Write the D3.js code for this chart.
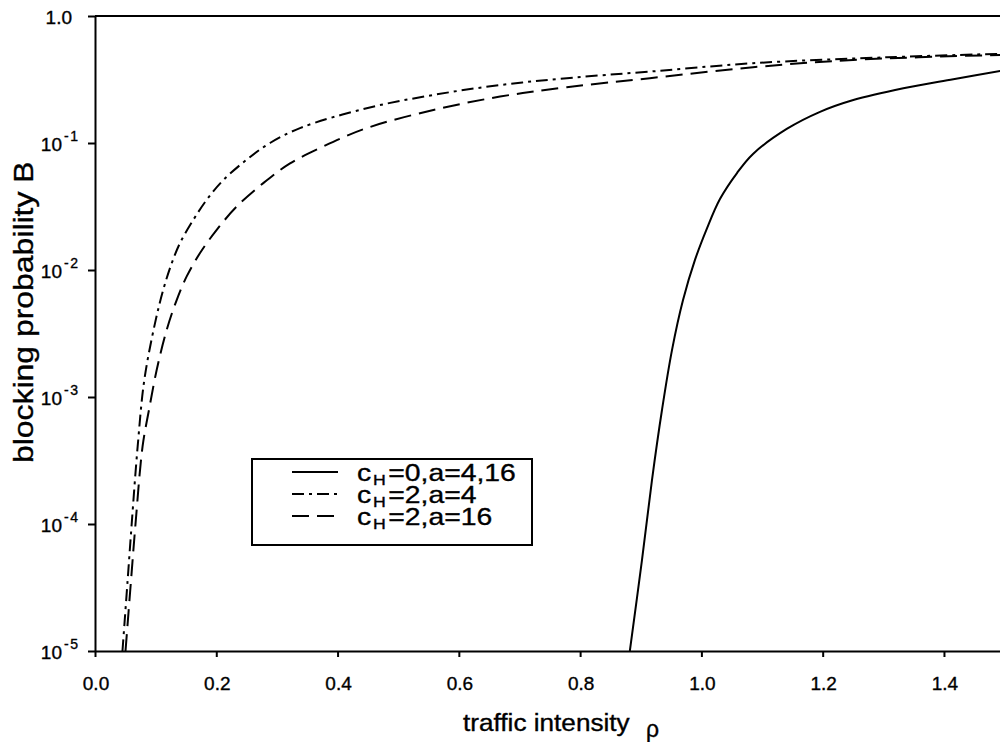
<!DOCTYPE html>
<html>
<head>
<meta charset="utf-8">
<script src="https://cdn.jsdelivr.net/npm/d3@7"></script>
<style>
  body { margin: 0; background: #fff; }
  svg { display: block; font-family: "Liberation Sans", Arial, sans-serif; }
  svg text { stroke: black; stroke-width: 0.35px; }
</style>
</head>
<body>
<div id="chart"></div>
<script>
// x ticks (traffic intensity rho)
const rhoTicks = [0.0, 0.2, 0.4, 0.6, 0.8, 1.0, 1.2, 1.4];
const rhoTickLabels = ["0.0", "0.2", "0.4", "0.6", "0.8", "1.0", "1.2", "1.4"];
// y ticks as decade exponents
const bExps = [0, -1, -2, -3, -4, -5];

// c_H = 0, a = 4,16  (solid)
const rhoSolid = [0.882, 0.902, 0.9185, 0.935, 0.9515, 0.9697, 0.9894, 1.0087, 1.0306, 1.0587, 1.0851, 1.1407, 1.1956, 1.2505, 1.333, 1.4154, 1.5];
const bSolid = [1e-5, 5.2e-5, 2.22e-4, 7.9e-4, 2.34e-3, 5.8e-3, 1.2e-2, 2.1e-2, 3.62e-2, 5.8e-2, 8.2e-2, 0.129, 0.176, 0.218, 0.27, 0.318, 0.374];

// c_H = 2, a = 4  (dash-dot)
const rhoA4 = [0.0453, 0.0538, 0.0605, 0.0704, 0.0813, 0.0989, 0.1126, 0.1265, 0.1402, 0.1621, 0.1842, 0.2116, 0.2502, 0.2886, 0.338, 0.448, 0.558, 0.668, 0.778, 0.915, 1.085, 1.306, 1.5];
const bA4 = [1e-5, 3.6e-5, 1.0e-4, 4.1e-4, 1.36e-3, 3.8e-3, 7.0e-3, 1.13e-2, 1.63e-2, 2.48e-2, 3.57e-2, 5.1e-2, 7.4e-2, 0.100, 0.131, 0.188, 0.239, 0.286, 0.324, 0.365, 0.425, 0.473, 0.505];

// c_H = 2, a = 16  (dashed)
const rhoA16 = [0.0503, 0.0594, 0.0668, 0.0785, 0.089, 0.1017, 0.1182, 0.1347, 0.1512, 0.1732, 0.2007, 0.2337, 0.2775, 0.3216, 0.3765, 0.448, 0.558, 0.668, 0.778, 0.915, 1.085, 1.25, 1.5];
const bA16 = [1e-5, 3.6e-5, 1.0e-4, 4.1e-4, 7.9e-4, 1.63e-3, 3.37e-3, 5.8e-3, 8.9e-3, 1.36e-2, 2.07e-2, 3.16e-2, 4.83e-2, 6.9e-2, 9.4e-2, 0.131, 0.182, 0.232, 0.275, 0.324, 0.395, 0.451, 0.495];

const legendLabels = ["=0,a=4,16", "=2,a=4", "=2,a=16"];

let w = 1000;
let h = 742;

let x = d3.scaleLinear().domain([0, 1.5]).range([95, 95 + 1.5 * 606.4]);
let y = d3.scaleLog().domain([1e-5, 1]).range([651, 16]);

let svg = d3.select("#chart")
  .append("svg")
  .attr("width", w)
  .attr("height", h)
  .style("overflow", "hidden");

svg.append("rect").attr("width", w).attr("height", h).attr("fill", "white");

svg.append("defs").append("clipPath").attr("id", "plot")
  .append("rect")
  .attr("x", x(0)).attr("y", y(1))
  .attr("width", x(1.5) - x(0)).attr("height", y(1e-5) - y(1));

// top frame line
svg.append("line")
  .attr("x1", x(0)).attr("x2", x(1.5))
  .attr("y1", y(1)).attr("y2", y(1))
  .attr("stroke", "black").attr("stroke-width", 2);

// left axis
svg.append("g")
  .attr("transform", `translate(${x(0)},0)`)
  .call(d3.axisLeft(y).tickValues(bExps.map(e => Math.pow(10, e))).tickSize(7).tickSizeOuter(0).tickFormat(""));

// bottom axis
svg.append("g")
  .attr("transform", `translate(0,${y(1e-5)})`)
  .call(d3.axisBottom(x).tickValues(rhoTicks).tickSize(6).tickSizeOuter(0).tickFormat(""));

svg.selectAll(".domain, .tick line")
  .attr("stroke", "black")
  .attr("stroke-width", 2);

// y tick labels
bExps.forEach(e => {
  let ty = y(Math.pow(10, e));
  if (e === 0) {
    svg.append("text")
      .attr("x", 72).attr("y", ty + 8)
      .attr("text-anchor", "end")
      .attr("font-size", 19)
      .text("1.0");
  } else {
    svg.append("text")
      .attr("x", 62).attr("y", ty + 8)
      .attr("text-anchor", "end")
      .attr("font-size", 19)
      .text("10");
    svg.append("text")
      .attr("x", 64).attr("y", ty - 2)
      .attr("font-size", 14)
      .attr("letter-spacing", 1.5)
      .text("-" + (-e));
  }
});

// x tick labels
rhoTicks.forEach((v, i) => {
  svg.append("text")
    .attr("x", x(v) + 1).attr("y", 690)
    .attr("text-anchor", "middle")
    .attr("font-size", 19)
    .text(rhoTickLabels[i]);
});

// axis titles
svg.append("text")
  .attr("transform", "translate(463,731) scale(1.09,1)")
  .attr("font-size", 24)
  .text("traffic intensity");
svg.append("text")
  .attr("transform", "translate(646,737)")
  .attr("font-size", 23)
  .text("ρ");

svg.append("text")
  .attr("transform", "translate(33,463) rotate(-90) scale(1.14,1)")
  .attr("font-size", 28)
  .text("blocking probability B");

// curves
let series = [
  {rho: rhoSolid, b: bSolid, dash: null},
  {rho: rhoA4, b: bA4, dash: "12,5,3,5"},
  {rho: rhoA16, b: bA16, dash: "17,8"}
];

let line = d3.line()
  .x(d => x(d[0]))
  .y(d => y(d[1]))
  .curve(d3.curveCatmullRom.alpha(0.5));

let curves = svg.append("g").attr("clip-path", "url(#plot)");
series.forEach(s => {
  curves.append("path")
    .datum(s.rho.map((r, i) => [r, s.b[i]]))
    .attr("d", line)
    .attr("fill", "none")
    .attr("stroke", "black")
    .attr("stroke-width", 2)
    .attr("stroke-dasharray", s.dash);
});

// legend
let legend = svg.append("g");
legend.append("rect")
  .attr("x", 252).attr("y", 459)
  .attr("width", 280).attr("height", 86)
  .attr("fill", "white")
  .attr("stroke", "black")
  .attr("stroke-width", 2);

let rowBase = [481, 503, 525];
series.forEach((s, i) => {
  legend.append("line")
    .attr("x1", 292).attr("x2", 338)
    .attr("y1", rowBase[i] - 9).attr("y2", rowBase[i] - 9)
    .attr("stroke", "black")
    .attr("stroke-width", 2)
    .attr("stroke-dasharray", s.dash);
});

// all legend labels in one text block, rows as tspans
let legendText = legend.append("text")
  .attr("transform", "translate(357,0) scale(1.18,1)")
  .attr("font-size", 24);
legendLabels.forEach((lab, i) => {
  legendText.append("tspan").attr("x", 0).attr("y", rowBase[i]).text("c");
  legendText.append("tspan").attr("x", 13.5).attr("y", rowBase[i] + 4)
    .attr("font-size", 15).text("H");
  legendText.append("tspan").attr("x", 26.5).attr("y", rowBase[i]).text(lab);
});
</script>
</body>
</html>
